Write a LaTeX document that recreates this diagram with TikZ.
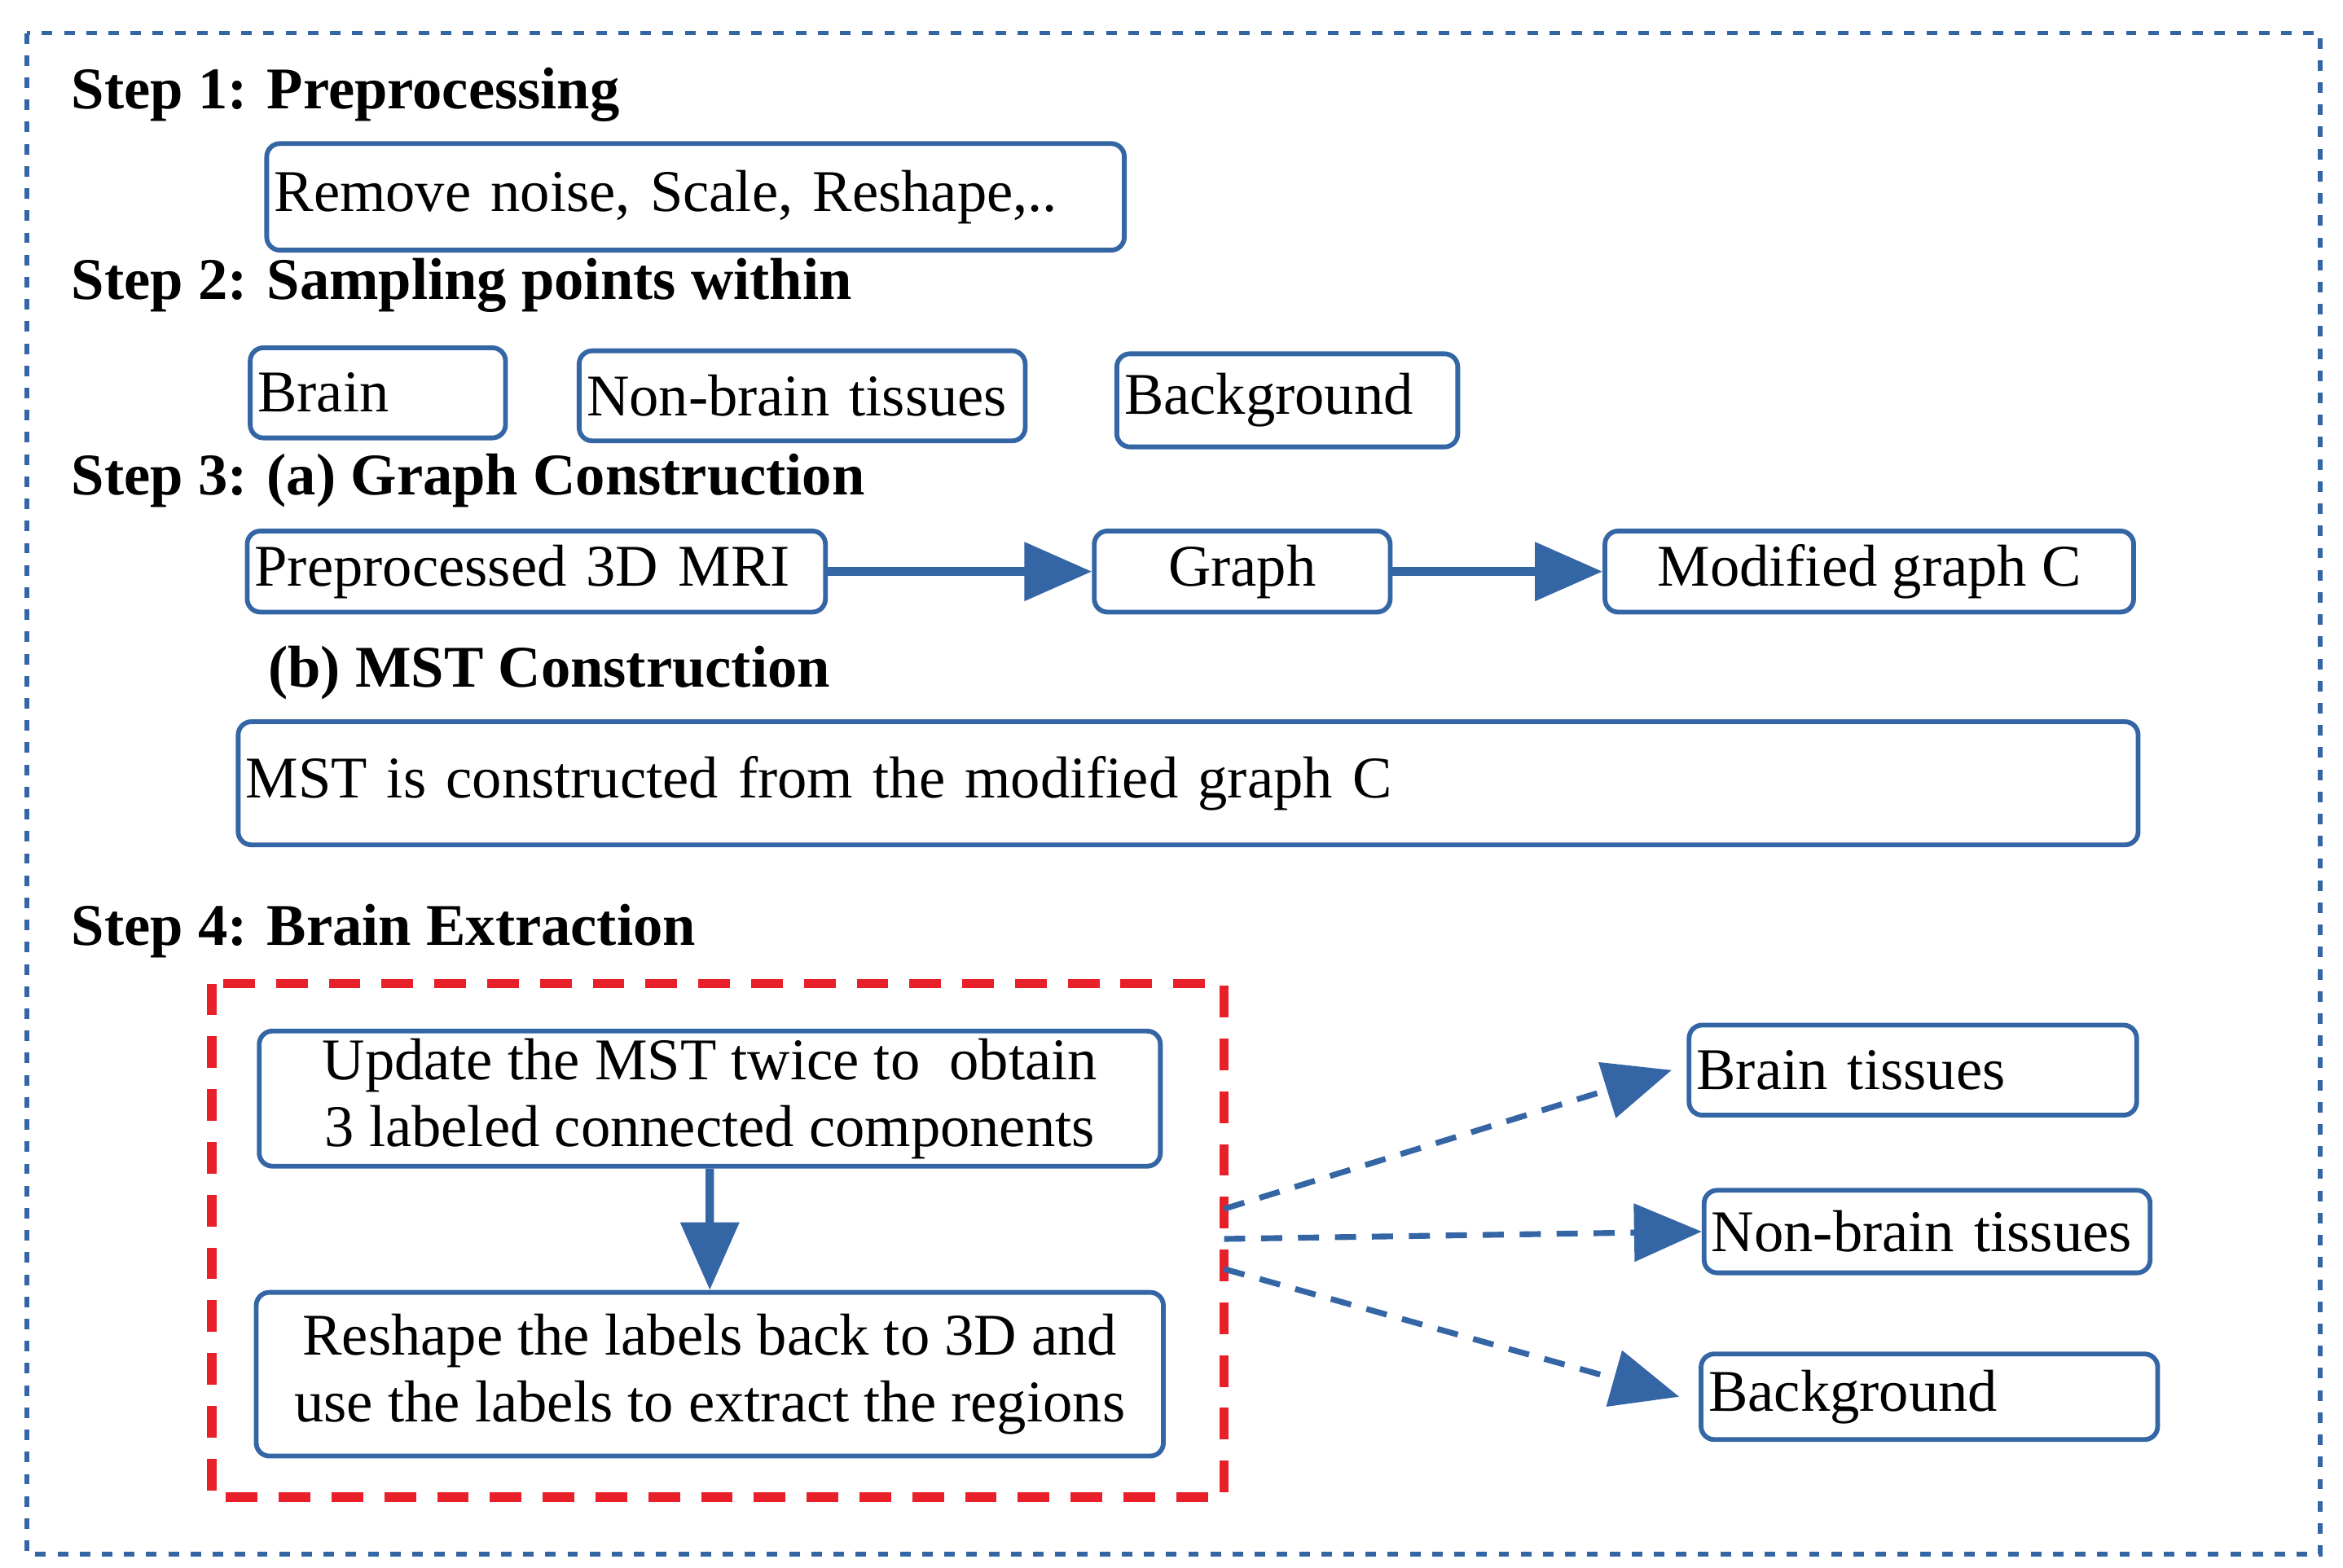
\documentclass[tikz,border=0pt]{standalone}
\usepackage{fontspec}
\setmainfont{Liberation Serif}
\usetikzlibrary{arrows.meta}
\definecolor{bl}{HTML}{3465A4}
\definecolor{rd}{HTML}{E8202A}
\begin{document}
\begin{tikzpicture}[
  every node/.style={font=\fontsize{11.2}{12.6}\selectfont},
  box/.style={draw=bl, line width=0.9pt, rounded corners=2.5pt, inner sep=0.05cm, anchor=north west},
  lbox/.style={box, align=left, execute at begin node={\hyphenpenalty=10000\hbadness=10000}},
  hd/.style={anchor=west, font=\fontsize{11.2}{12.6}\selectfont\bfseries, inner sep=0},
  arr/.style={draw=bl, line width=1.6pt, -{Triangle[length=0.45cm,width=0.38cm]}},
  darr/.style={arr, line width=1.1pt, dash pattern=on 4pt off 3pt}
]
\useasboundingbox (0,0) rectangle (15.6,-10.44);
\draw[bl, line width=0.9pt, dash pattern=on 2pt off 2.2pt] (0.18,-0.22) rectangle (15.45,-10.35);
\node[hd] (s1) at (0.47,-0.63) {Step 1: Preprocessing};
\node[lbox, minimum height=0.71cm, text width=5.61cm] (b1) at (1.76,-0.94) {Remove noise, Scale, Reshape,..};
\node[hd] (s2) at (0.47,-1.90) {Step 2: Sampling points within};
\node[lbox, minimum height=0.60cm, text width=1.60cm] (br) at (1.65,-2.30) {Brain};
\node[lbox, minimum height=0.60cm, text width=2.87cm] (nb) at (3.84,-2.32) {Non-brain tissues};
\node[lbox, minimum height=0.62cm, text width=2.17cm] (bg) at (7.42,-2.34) {Background};
\node[hd] (s3) at (0.47,-3.20) {Step 3: (a) Graph Construction};
\node[lbox, minimum height=0.54cm, text width=3.75cm] (pp) at (1.63,-3.52) {Preprocessed 3D MRI};
\node[box, minimum height=0.54cm, minimum width=1.97cm] (gr) at (7.27,-3.52) {Graph};
\node[box, minimum height=0.54cm, minimum width=3.52cm] (mg) at (10.67,-3.52) {Modified graph C};
\draw[arr] (pp.east) -- (gr.west);
\draw[arr] (gr.east) -- (mg.west);
\node[hd] (s3b) at (1.78,-4.48) {(b) MST Construction};
\node[lbox, minimum height=0.82cm, text width=12.55cm] (mst) at (1.57,-4.79) {MST is constructed from the modified graph C};
\node[hd] (s4) at (0.47,-6.20) {Step 4: Brain Extraction};
\draw[rd, line width=1.8pt, dash pattern=on 6pt off 4pt] (1.41,-6.55) rectangle (8.15,-9.97);
\coordinate (r1) at (8.15,-8.05);
\coordinate (r2) at (8.15,-8.25);
\coordinate (r3) at (8.15,-8.45);
\node[box, minimum height=0.89cm, minimum width=6.0cm, align=center] (up) at (1.71,-6.85) {Update the MST twice to\ \ obtain\\3 labeled connected components};
\node[box, minimum height=1.09cm, minimum width=6.04cm, align=center] (rs) at (1.69,-8.59) {Reshape the labels back to 3D and\\use the labels to extract the regions};
\draw[arr] (up.south) -- (rs.north);
\node[lbox, minimum height=0.60cm, text width=2.88cm] (bt) at (11.23,-6.81) {Brain tissues};
\node[lbox, minimum height=0.55cm, text width=2.87cm] (nt) at (11.33,-7.91) {Non-brain tissues};
\node[lbox, minimum height=0.57cm, text width=2.94cm] (bk) at (11.31,-9.00) {Background};
\draw[darr] (r1) -- ([xshift=-0.1cm]bt.west);
\draw[darr] (r2) -- (nt.west);
\draw[darr] (r3) -- ([xshift=-0.13cm]bk.west);
\end{tikzpicture}
\end{document}
